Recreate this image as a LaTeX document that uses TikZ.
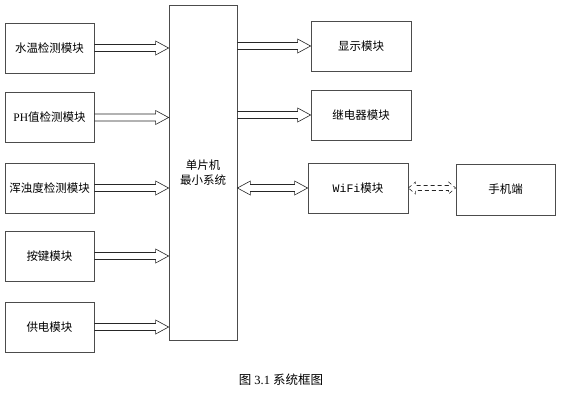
\documentclass[tikz,border=0pt]{standalone}
\usepackage{fontspec}
\setmainfont{Liberation Serif}
\newfontfamily\cjk{Noto Sans CJK SC}
\usetikzlibrary{calc}

\tikzset{
    block/.style={draw=black!70, line width=0.8pt, minimum width=89pt, minimum height=50pt,
        inner sep=0pt, font=\cjk\fontsize{11.5}{14.5}\selectfont},
    wide block/.style={block, minimum width=100pt},
    head len/.initial=13pt,
    head half/.initial=7pt,
    shaft half/.initial=3.5pt,
    % hollow block arrow, one head at the target
    sig/.style={draw=black!85, line width=0.6pt, to path={
        ($(\tikztostart)+(0,\pgfkeysvalueof{/tikz/shaft half})$)
        -- ($(\tikztotarget)+(-\pgfkeysvalueof{/tikz/head len},\pgfkeysvalueof{/tikz/shaft half})$)
        -- ($(\tikztotarget)+(-\pgfkeysvalueof{/tikz/head len},\pgfkeysvalueof{/tikz/head half})$)
        -- (\tikztotarget)
        -- ($(\tikztotarget)+(-\pgfkeysvalueof{/tikz/head len},-\pgfkeysvalueof{/tikz/head half})$)
        -- ($(\tikztotarget)+(-\pgfkeysvalueof{/tikz/head len},-\pgfkeysvalueof{/tikz/shaft half})$)
        -- ($(\tikztostart)+(0,-\pgfkeysvalueof{/tikz/shaft half})$)}},
    % hollow block arrow, heads at both ends
    sig both/.style={draw=black!85, line width=0.6pt, to path={
        (\tikztostart)
        -- ($(\tikztostart)+(\pgfkeysvalueof{/tikz/head len},\pgfkeysvalueof{/tikz/head half})$)
        -- ($(\tikztostart)+(\pgfkeysvalueof{/tikz/head len},\pgfkeysvalueof{/tikz/shaft half})$)
        -- ($(\tikztotarget)+(-\pgfkeysvalueof{/tikz/head len},\pgfkeysvalueof{/tikz/shaft half})$)
        -- ($(\tikztotarget)+(-\pgfkeysvalueof{/tikz/head len},\pgfkeysvalueof{/tikz/head half})$)
        -- (\tikztotarget)
        -- ($(\tikztotarget)+(-\pgfkeysvalueof{/tikz/head len},-\pgfkeysvalueof{/tikz/head half})$)
        -- ($(\tikztotarget)+(-\pgfkeysvalueof{/tikz/head len},-\pgfkeysvalueof{/tikz/shaft half})$)
        -- ($(\tikztostart)+(\pgfkeysvalueof{/tikz/head len},-\pgfkeysvalueof{/tikz/shaft half})$)
        -- ($(\tikztostart)+(\pgfkeysvalueof{/tikz/head len},-\pgfkeysvalueof{/tikz/head half})$)
        -- cycle}},
}

\begin{document}
\begin{tikzpicture}[x=1pt, y=-1pt]
    \useasboundingbox (0,0) rectangle (562,400);

    % central controller
    \node[block, minimum width=68pt, minimum height=335pt, align=center] (mcu) at (203,172.5) {单片机\\最小系统};

    % input modules
    \node[block] (temp)  at (49.5,48)  {水温检测模块};
    \node[block] (ph)    at (49.5,117.5) {{\rmfamily PH}值检测模块};
    \node[block] (turb)  at (49.5,188) {浑浊度检测模块};
    \node[block] (key)   at (49.5,256) {按键模块};
    \node[block] (power) at (49.5,327) {供电模块};

    % output modules
    \node[wide block] (disp)  at (361,46)  {显示模块};
    \node[wide block] (relay) at (361,115) {继电器模块};
    \node[wide block] (wifi)  at (358,188) {{\fontspec{Liberation Mono}WiFi}模块};
    \node[wide block, minimum width=99pt, minimum height=51pt] (phone) at (505.5,189.5) {手机端};

    % signal arrows
    \foreach \m in {temp, ph, turb, key, power}
        \draw[sig] (\m.east) to (\m.east -| mcu.west);
    \draw[sig] (disp.west -| mcu.east) to (disp.west);
    \draw[sig] (relay.west -| mcu.east) to (relay.west);
    \draw[sig both] (wifi.west -| mcu.east) to (wifi.west);
    \draw[sig both, dash pattern=on 4pt off 3pt, head len=7pt, head half=6pt, shaft half=2.5pt]
        (wifi.east) to (wifi.east -| phone.west);

    % caption
    \node[font=\fontsize{12.5}{15}\selectfont] (caption) at (281,380) {{\cjk 图} 3.1 {\cjk 系统框图}};
\end{tikzpicture}
\end{document}
